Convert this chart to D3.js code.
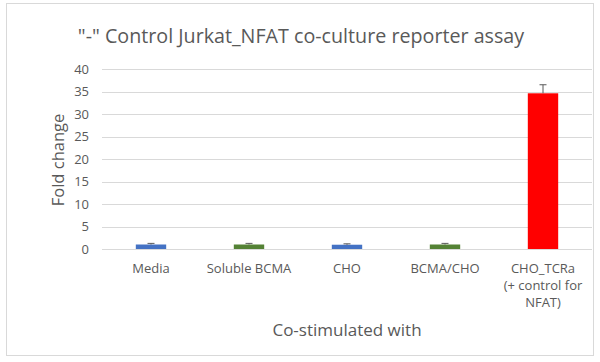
<!DOCTYPE html>
<html>
<head>
<meta charset="utf-8">
<script src="https://cdn.jsdelivr.net/npm/d3@7"></script>
<style>
  body { margin: 0; background: #fff; }
  text { font-family: "Open Sans", "Liberation Sans", sans-serif; fill: #595959; }
</style>
</head>
<body>
<div id="chart"></div>
<script>
// chart data
const categories = ['Media', 'Soluble BCMA', 'CHO', 'BCMA/CHO', 'CHO_TCRa\n(+ control for\nNFAT)'];
const values = [1.0, 1.0, 0.95, 1.0, 34.6];
const errors = [0.25, 0.25, 0.2, 0.25, 1.9];
const colors = ['#4472C4', '#548235', '#4472C4', '#548235', '#FF0000'];
const yTicks = [0, 5, 10, 15, 20, 25, 30, 35, 40];

const width = 600, height = 362;
const margin = {top: 69, right: 8, bottom: 113, left: 102};

let svg = d3.select('#chart').append('svg')
  .attr('width', width)
  .attr('height', height);

// outer frame
svg.append('rect')
  .attr('x', 6.5).attr('y', 3.5)
  .attr('width', 587).attr('height', 352)
  .attr('fill', 'none')
  .attr('stroke', '#d9d9d9');

let xScale = d3.scaleBand()
  .domain(categories)
  .range([margin.left, width - margin.right])
  .paddingInner(0.69)
  .paddingOuter(0.345);

let yScale = d3.scaleLinear()
  .domain([0, 40])
  .range([height - margin.bottom, margin.top]);

// gridlines
svg.append('g')
  .selectAll('line')
  .data(yTicks)
  .enter().append('line')
    .attr('x1', margin.left)
    .attr('x2', width - margin.right)
    .attr('y1', d => Math.round(yScale(d)) + 0.5)
    .attr('y2', d => Math.round(yScale(d)) + 0.5)
    .attr('stroke', '#d9d9d9');

// y axis labels
let yAxis = svg.append('g')
  .attr('transform', 'translate(' + margin.left + ',0)')
  .call(d3.axisLeft(yScale).tickValues(yTicks).tickSize(0).tickPadding(13));
yAxis.select('.domain').remove();
yAxis.selectAll('text')
  .attr('font-size', 13)
  .attr('fill', '#595959')
  .attr('font-family', '"Open Sans", sans-serif');

// bars
svg.selectAll('rect.bar')
  .data(values)
  .enter().append('rect')
    .attr('class', 'bar')
    .attr('x', (d, i) => xScale(categories[i]))
    .attr('y', d => yScale(d))
    .attr('width', xScale.bandwidth())
    .attr('height', d => yScale(0) - yScale(d))
    .attr('fill', (d, i) => colors[i]);

// error bars (upper only)
let err = svg.append('g');
values.forEach((v, i) => {
  let cx = xScale(categories[i]) + xScale.bandwidth() / 2;
  err.append('line')
    .attr('x1', cx).attr('x2', cx)
    .attr('y1', yScale(v)).attr('y2', yScale(v + errors[i]))
    .attr('stroke', '#595959').attr('stroke-width', 1);
  err.append('line')
    .attr('x1', cx - 3.5).attr('x2', cx + 3.5)
    .attr('y1', yScale(v + errors[i])).attr('y2', yScale(v + errors[i]))
    .attr('stroke', '#595959').attr('stroke-width', 1);
});

// x category labels
categories.forEach((c) => {
  let cx = xScale(c) + xScale.bandwidth() / 2;
  let t = svg.append('text')
    .attr('text-anchor', 'middle')
    .attr('font-size', 13);
  c.split('\n').forEach((line, j) => {
    t.append('tspan')
      .attr('x', cx)
      .attr('y', 273 + j * 17)
      .text(line);
  });
});

// title
svg.append('text')
  .attr('x', 301)
  .attr('y', 43)
  .attr('text-anchor', 'middle')
  .attr('font-size', 19.7)
  .text('"-" Control Jurkat_NFAT co-culture reporter assay');

// axis titles
svg.append('text')
  .attr('x', (margin.left + width - margin.right) / 2)
  .attr('y', 336)
  .attr('text-anchor', 'middle')
  .attr('font-size', 17)
  .text('Co-stimulated with');

svg.append('text')
  .attr('transform', 'translate(64,160) rotate(-90)')
  .attr('text-anchor', 'middle')
  .attr('font-size', 16.5)
  .text('Fold change');
</script>
</body>
</html>
